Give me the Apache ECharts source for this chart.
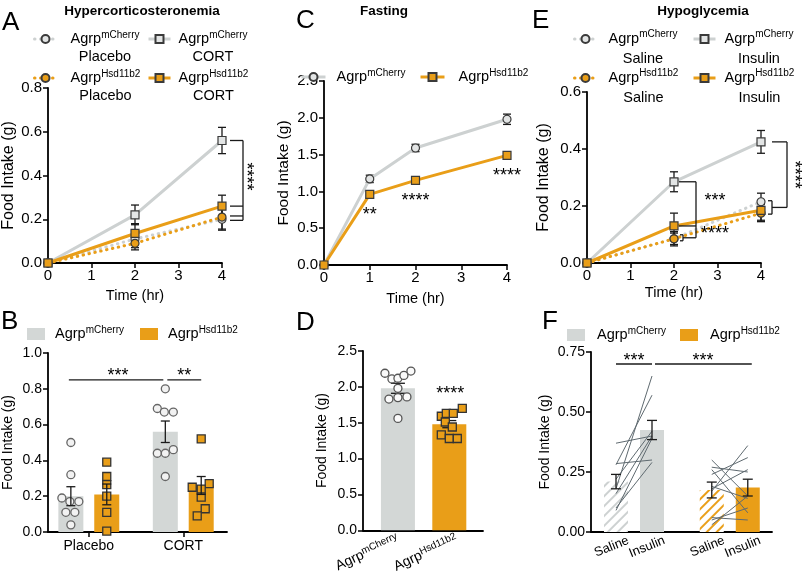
<!DOCTYPE html>
<html><head><meta charset="utf-8">
<script src="https://cdn.jsdelivr.net/npm/echarts@6/dist/echarts.min.js"></script>
<style>html,body{margin:0;padding:0;background:#fff}#c{width:802px;height:575px}</style>
</head><body><div id="c"></div>
<script>
// ================= DATA =================
// Panel A – Hypercorticosteronemia (food intake vs time)
const timeA = [0, 2, 4];
const aMchPla = [0, 0.11, 0.20];   const aMchPlaErr = [0, 0.04, 0.05];
const aMchCort = [0, 0.22, 0.56];  const aMchCortErr = [0, 0.045, 0.06];
const aHsdPla = [0, 0.09, 0.21];   const aHsdPlaErr = [0, 0.03, 0.055];
const aHsdCort = [0, 0.135, 0.26]; const aHsdCortErr = [0, 0.045, 0.05];
// Panel C – Fasting
const timeC = [0, 1, 2, 4];
const cMch = [0, 1.17, 1.59, 1.98]; const cMchErr = [0, 0.05, 0.05, 0.07];
const cHsd = [0, 0.96, 1.15, 1.49]; const cHsdErr = [0, 0.05, 0.04, 0.04];
const cStars = ['', '**', '****', '****'];
// Panel E – Hypoglycemia
const timeE = [0, 2, 4];
const eMchSal = [0, 0.085, 0.215]; const eMchSalErr = [0, 0.025, 0.03];
const eMchIns = [0, 0.285, 0.425]; const eMchInsErr = [0, 0.035, 0.04];
const eHsdSal = [0, 0.085, 0.175]; const eHsdSalErr = [0, 0.02, 0.03];
const eHsdIns = [0, 0.13, 0.185];  const eHsdInsErr = [0, 0.045, 0.035];
// Panel B – 4 h intake
const bGroups = ['Placebo', 'CORT'];
const bMchMean = [0.20, 0.56]; const bMchErr = [0.053, 0.06];
const bHsdMean = [0.21, 0.26]; const bHsdErr = [0.058, 0.05];
const bMchPla = [0.50, 0.32, 0.19, 0.17, 0.17, 0.11, 0.11, 0.04];
const bMchPlaJit = [0, 0, -9, -1, 8, -5, 4, 0];
const bHsdPla = [0.39, 0.31, 0.265, 0.20, 0.11, 0.005];
const bHsdPlaJit = [0, 0, 0, 0, 0, 0];
const bMchCort = [0.80, 0.69, 0.67, 0.67, 0.46, 0.44, 0.44, 0.31];
const bMchCortJit = [0, -8, -1, 8, 8, -8, 0, 0];
const bHsdCort = [0.52, 0.27, 0.25, 0.24, 0.195, 0.13, 0.09];
const bHsdCortJit = [0, 8, -9, 0, 0, 4, -4];
// Panel D – fasting 4 h intake
const dGroups = ['mCherry', 'Hsd11b2'];
const dMean = [1.98, 1.48]; const dErr = [0.07, 0.05];
const dMchPts = [2.19, 2.11, 2.12, 2.16, 2.22, 1.98, 1.83, 1.85, 1.86, 1.56];
const dMchJit = [-13, -6, 0, 6, 13, 0, -9, 0, 9, 0];
const dHsdPts = [1.59, 1.63, 1.63, 1.70, 1.51, 1.44, 1.33, 1.28, 1.28];
const dHsdJit = [-8, -3, 4, 13, -4, 3, -8, 0, 8];
// Panel F – hypoglycemia 4 h intake (paired)
const fConds = ['Saline', 'Insulin'];
const fMchMean = [0.21, 0.425]; const fMchErr = [0.03, 0.04];
const fHsdMean = [0.175, 0.185]; const fHsdErr = [0.033, 0.035];
const fMchSal = [0.37, 0.285, 0.28, 0.22, 0.18, 0.16, 0.09, 0.10];
const fMchIns = [0.40, 0.30, 0.57, 0.42, 0.65, 0.40, 0.39, 0.29];
const fHsdSal = [0.30, 0.27, 0.26, 0.24, 0.19, 0.18, 0.17, 0.06, 0.03, 0.05];
const fHsdIns = [0.15, 0.25, 0.08, 0.31, 0.14, 0.26, 0.36, 0.05, 0.15, 0.10];

// ================= STYLE =================
const FF = '"Liberation Sans", Arial, Helvetica, sans-serif';
const GREY_LINE = '#cdd1d1', GREY_BAR = '#d3d7d6', ORANGE = '#e99e18';
const MCH_FILL = '#e3e5e5', EDGE = '#3a3a3a';
const B_OFF = 0.19, F_OFF = 0.188, F_LBL = 0.13;

const chart = echarts.init(document.getElementById('c'), null, {renderer: 'canvas', width: 802, height: 575});

function yAx(gi, max, interval, dec, nameGap, fs, nfs) {
  return {type: 'value', gridIndex: gi, min: 0, max, interval, name: 'Food Intake (g)', nameLocation: 'middle', nameGap,
    nameTextStyle: {fontSize: nfs, color: '#000', fontFamily: FF},
    axisLine: {show: true, onZero: false, lineStyle: {color: '#000', width: 1.8}},
    axisTick: {show: true, length: 5, lineStyle: {color: '#000', width: 1.5}},
    splitLine: {show: false},
    axisLabel: {fontSize: fs, color: '#000', fontFamily: FF, margin: 6, formatter: v => v.toFixed(dec)}};
}
function timeAx(gi, nameGap) {
  return {type: 'value', gridIndex: gi, min: 0, max: 4, interval: 1, name: 'Time (hr)', nameLocation: 'middle', nameGap,
    nameTextStyle: {fontSize: 14.5, color: '#000', fontFamily: FF},
    axisLine: {show: true, onZero: false, lineStyle: {color: '#000', width: 1.8}},
    axisTick: {show: true, length: 5, lineStyle: {color: '#000', width: 1.5}},
    splitLine: {show: false},
    axisLabel: {fontSize: 15, color: '#000', fontFamily: FF, margin: 5}};
}
function catAx(gi, min, max, extra) {
  return Object.assign({type: 'value', gridIndex: gi, min, max,
    axisLine: {show: true, onZero: false, lineStyle: {color: '#000', width: 1.8}},
    splitLine: {show: false}}, extra);
}

function lineS(name, gi, xs, ys, color, dotted, symbol, fill, z) {
  return {name, type: 'line', xAxisIndex: gi, yAxisIndex: gi, data: xs.map((x, i) => [x, ys[i]]),
    symbol, symbolSize: 8, clip: false, z, emphasis: {disabled: true},
    lineStyle: {color, width: 3, type: dotted ? [0.5, 5.5] : 'solid', cap: dotted ? 'round' : 'butt'},
    itemStyle: {color: fill, borderColor: EDGE, borderWidth: 1.2}};
}
function errS(gi, xs, ys, es, cap, z) {
  return {type: 'custom', xAxisIndex: gi, yAxisIndex: gi, z, silent: true, clip: false,
    data: xs.map((x, i) => [x, ys[i], es[i]]), encode: {x: 0, y: 1},
    renderItem(params, api) {
      const x = api.value(0), m = api.value(1), e = api.value(2);
      if (!e) return null;
      const t = api.coord([x, m + e]), b = api.coord([x, m - e]);
      const st = {stroke: '#1a1a1a', lineWidth: 1.3};
      return {type: 'group', children: [
        {type: 'line', shape: {x1: t[0], y1: t[1], x2: b[0], y2: b[1]}, style: st},
        {type: 'line', shape: {x1: t[0] - cap, y1: t[1], x2: t[0] + cap, y2: t[1]}, style: st},
        {type: 'line', shape: {x1: b[0] - cap, y1: b[1], x2: b[0] + cap, y2: b[1]}, style: st}]};
    }};
}
function scatS(gi, x, vals, jit, symbol, fill, stroke, z) {
  return {type: 'scatter', xAxisIndex: gi, yAxisIndex: gi, symbol, symbolSize: 8, z, clip: false, silent: true,
    data: vals.map((v, i) => ({value: [x, v], symbolOffset: [jit[i], 0]})),
    itemStyle: {color: fill, borderColor: stroke, borderWidth: 1.3, opacity: 1}};
}
const Ln = (x1, y1, x2, y2) => ({type: 'line', shape: {x1, y1, x2, y2}, style: {stroke: '#1a1a1a', lineWidth: 1.3}});
const Tx = (text, x, y, rot) => ({type: 'text', x, y, rotation: rot || 0,
  style: {text, font: '18px ' + FF, fill: '#000', align: 'center', verticalAlign: 'middle', textAlign: 'center', textVerticalAlign: 'middle'}});
function annot(gi, build) {
  return {type: 'custom', xAxisIndex: gi, yAxisIndex: gi, data: [[0, 0]], clip: false, silent: true, z: 10,
    encode: {x: 0, y: 1},
    renderItem(params, api) { return {type: 'group', children: build((x, y) => api.coord([x, y]))}; }};
}

// ---------- legends ----------
const LEG = {
  A_mch_pla: ['mCherry', 'Placebo'], A_mch_cort: ['mCherry', 'CORT'],
  A_hsd_pla: ['Hsd11b2', 'Placebo'], A_hsd_cort: ['Hsd11b2', 'CORT'],
  E_mch_sal: ['mCherry', 'Saline'], E_mch_ins: ['mCherry', 'Insulin'],
  E_hsd_sal: ['Hsd11b2', 'Saline'], E_hsd_ins: ['Hsd11b2', 'Insulin'],
  C_mch: ['mCherry'], C_hsd: ['Hsd11b2'], B_mch: ['mCherry'], B_hsd: ['Hsd11b2'], F_mch: ['mCherry'], F_hsd: ['Hsd11b2']
};
function richFor(lh, pad) {
  return {
    e: {fontSize: 12, lineHeight: lh, fontFamily: FF},
    p: {width: pad, lineHeight: lh, fontFamily: FF, align: 'center'},
    a: {fontSize: 14.5, lineHeight: lh, fontFamily: FF, color: '#000', align: 'center'},
    s: {fontSize: 10, lineHeight: 8, verticalAlign: 'top', fontFamily: FF, color: '#000', align: 'center'},
    b: {fontSize: 14.5, lineHeight: lh, fontFamily: FF, color: '#000', align: 'center'}
  };
}
function leg(name, left, top, pad, lh, opts) {
  const t = LEG[name];
  return Object.assign({data: [name], left, top, padding: 0, selectedMode: false, itemWidth: 22, itemHeight: 10,
    lineStyle: {width: 3},
    formatter: () => t.length > 1 ? '{e| }\n{p| }{a|Agrp}{s|' + t[0] + '}\n{p| }{b|' + t[1] + '}' : '{p| }{a|Agrp}{s|' + t[0] + '}',
    textStyle: {color: '#000', fontFamily: FF, rich: richFor(lh, pad)}}, opts || {});
}
const barLeg = {itemWidth: 18, itemHeight: 12, icon: 'rect'};

// ---------- series ----------
const series = [
  // A
  errS(0, timeA, aMchPla, aMchPlaErr, 4, 1), errS(0, timeA, aMchCort, aMchCortErr, 4, 1),
  errS(0, timeA, aHsdPla, aHsdPlaErr, 4, 1), errS(0, timeA, aHsdCort, aHsdCortErr, 4, 1),
  lineS('A_mch_pla', 0, timeA, aMchPla, GREY_LINE, true, 'circle', MCH_FILL, 2),
  lineS('A_mch_cort', 0, timeA, aMchCort, GREY_LINE, false, 'rect', MCH_FILL, 2),
  lineS('A_hsd_pla', 0, timeA, aHsdPla, ORANGE, true, 'circle', ORANGE, 3),
  lineS('A_hsd_cort', 0, timeA, aHsdCort, ORANGE, false, 'rect', ORANGE, 3),
  annot(0, c => {
    const x4 = c(4, 0)[0], xv = x4 + 21;
    const yTop = c(4, aMchCort[2])[1];
    const ys = [aHsdCort[2], aMchPla[2] + 0.015, aHsdPla[2] - 0.015].map(v => c(4, v)[1]);
    const yBot = Math.max(...ys);
    return [Ln(x4 + 8, yTop, xv, yTop), Ln(xv, yTop, xv, yBot), ...ys.map(y => Ln(x4 + 8, y, xv, y)),
      Tx('****', xv + 3, (yTop + yBot) / 2 - 4, -Math.PI / 2)];
  }),
  // C
  errS(1, timeC, cMch, cMchErr, 4, 1), errS(1, timeC, cHsd, cHsdErr, 4, 1),
  lineS('C_mch', 1, timeC, cMch, GREY_LINE, false, 'circle', MCH_FILL, 2),
  lineS('C_hsd', 1, timeC, cHsd, ORANGE, false, 'rect', ORANGE, 3),
  annot(1, c => timeC.map((t, i) => cStars[i] ? Tx(cStars[i], c(t, cHsd[i])[0], c(t, cHsd[i])[1] + 21) : null).filter(Boolean)),
  // E
  errS(2, timeE, eMchSal, eMchSalErr, 4, 1), errS(2, timeE, eMchIns, eMchInsErr, 4, 1),
  errS(2, timeE, eHsdSal, eHsdSalErr, 4, 1), errS(2, timeE, eHsdIns, eHsdInsErr, 4, 1),
  lineS('E_mch_sal', 2, timeE, eMchSal, GREY_LINE, true, 'circle', MCH_FILL, 2),
  lineS('E_mch_ins', 2, timeE, eMchIns, GREY_LINE, false, 'rect', MCH_FILL, 2),
  lineS('E_hsd_sal', 2, timeE, eHsdSal, ORANGE, true, 'circle', ORANGE, 3),
  lineS('E_hsd_ins', 2, timeE, eHsdIns, ORANGE, false, 'rect', ORANGE, 3),
  annot(2, c => {
    const out = [];
    const x2 = c(2, 0)[0];
    const ySal = c(2, eMchSal[1])[1] - 1;
    out.push(Ln(x2 + 6, ySal - 3, x2 + 9, ySal - 3), Ln(x2 + 9, ySal - 3, x2 + 9, ySal + 3), Ln(x2 + 6, ySal + 3, x2 + 9, ySal + 3));
    const yIns = c(2, eMchIns[1])[1], yHIns = c(2, eHsdIns[1])[1], xv = x2 + 22;
    out.push(Ln(x2 + 5, yIns, xv, yIns), Ln(xv, yIns, xv, ySal), Ln(x2 + 5, yHIns, xv, yHIns), Ln(x2 + 9, ySal, xv, ySal));
    out.push(Tx('***', x2 + 41, (yIns + yHIns) / 2 - 3), Tx('****', x2 + 41, (yHIns + ySal) / 2 + 2));
    const x4 = c(4, 0)[0];
    const vals = [eMchSal[2], eHsdSal[2], eHsdIns[2]];
    const sTop = c(4, Math.max(...vals))[1] - 1, sBot = c(4, Math.min(...vals))[1] + 1;
    out.push(Ln(x4 + 7, sTop, x4 + 11, sTop), Ln(x4 + 11, sTop, x4 + 11, sBot), Ln(x4 + 7, sBot, x4 + 11, sBot));
    const yI4 = c(4, eMchIns[2])[1], ym = (sTop + sBot) / 2, xv4 = x4 + 26;
    out.push(Ln(x4 + 11, yI4, xv4, yI4), Ln(xv4, yI4, xv4, ym), Ln(x4 + 11, ym, xv4, ym));
    out.push(Tx('****', xv4 + 7, (yI4 + ym) / 2, -Math.PI / 2));
    return out;
  }),
  // B
  {name: 'B_mch', type: 'bar', xAxisIndex: 3, yAxisIndex: 3, data: bMchMean.map((v, i) => [i - B_OFF, v]),
    barWidth: 25, barGap: '-100%', itemStyle: {color: GREY_BAR}, z: 2, silent: true},
  {name: 'B_hsd', type: 'bar', xAxisIndex: 3, yAxisIndex: 3, data: bHsdMean.map((v, i) => [i + B_OFF, v]),
    barWidth: 25, barGap: '-100%', itemStyle: {color: ORANGE}, z: 2, silent: true},
  scatS(3, 0 - B_OFF, bMchPla, bMchPlaJit, 'circle', '#f2f2f2', '#666', 3),
  scatS(3, 0 + B_OFF, bHsdPla, bHsdPlaJit, 'rect', ORANGE, '#333', 3),
  scatS(3, 1 - B_OFF, bMchCort, bMchCortJit, 'circle', '#f2f2f2', '#666', 3),
  scatS(3, 1 + B_OFF, bHsdCort, bHsdCortJit, 'rect', ORANGE, '#333', 3),
  errS(3, [0 - B_OFF, 1 - B_OFF], bMchMean, bMchErr, 4.5, 4),
  errS(3, [0 + B_OFF, 1 + B_OFF], bHsdMean, bHsdErr, 4.5, 4),
  annot(3, c => {
    const y = c(0, 0.85)[1];
    const xa = c(-B_OFF, 0)[0], xc = c(1 - B_OFF, 0)[0], xd = c(1 + B_OFF, 0)[0];
    return [Ln(xa - 2, y, xc - 2, y), Ln(xc + 2, y, xd, y), Tx('***', (xa + xc) / 2, y - 4), Tx('**', (xc + xd) / 2 + 1, y - 4)];
  }),
  // D
  {type: 'bar', xAxisIndex: 4, yAxisIndex: 4, barWidth: 34, z: 2, silent: true,
    data: [{value: [0, dMean[0]], itemStyle: {color: GREY_BAR}}, {value: [1, dMean[1]], itemStyle: {color: ORANGE}}]},
  errS(4, [0, 1], dMean, dErr, 7, 3),
  scatS(4, 0, dMchPts, dMchJit, 'circle', '#fafafa', '#555', 4),
  scatS(4, 1, dHsdPts, dHsdJit, 'rect', ORANGE, '#333', 4),
  annot(4, c => [Tx('****', c(1, 0)[0] + 1, c(1, Math.max(...dHsdPts))[1] - 14)]),
  // F
  {name: 'F_mch_sal', type: 'bar', xAxisIndex: 5, yAxisIndex: 5, data: [[0 - F_OFF, fMchMean[0]]], barWidth: 24, barGap: '-100%', z: 2, silent: true,
    itemStyle: {color: '#ffffff', decal: {symbol: 'rect', symbolSize: 1, dashArrayX: [1, 0], dashArrayY: [2, 5], rotation: -Math.PI / 4, color: '#cdd1d1'}}},
  {name: 'F_mch', type: 'bar', xAxisIndex: 5, yAxisIndex: 5, data: [[0 + F_OFF, fMchMean[1]]], barWidth: 24, barGap: '-100%', z: 2, silent: true,
    itemStyle: {color: GREY_BAR}},
  {name: 'F_hsd_sal', type: 'bar', xAxisIndex: 5, yAxisIndex: 5, data: [[1 - F_OFF, fHsdMean[0]]], barWidth: 24, barGap: '-100%', z: 2, silent: true,
    itemStyle: {color: '#ffffff', decal: {symbol: 'rect', symbolSize: 1, dashArrayX: [1, 0], dashArrayY: [2, 5], rotation: -Math.PI / 4, color: ORANGE}}},
  {name: 'F_hsd', type: 'bar', xAxisIndex: 5, yAxisIndex: 5, data: [[1 + F_OFF, fHsdMean[1]]], barWidth: 24, barGap: '-100%', z: 2, silent: true,
    itemStyle: {color: ORANGE}},
  {type: 'custom', xAxisIndex: 5, yAxisIndex: 5, z: 3, silent: true, clip: false, encode: {x: 0, y: 1},
    data: fMchSal.map((s, i) => [0, s, fMchIns[i]]).concat(fHsdSal.map((s, i) => [1, s, fHsdIns[i]])),
    renderItem(params, api) {
      const g = api.value(0);
      const a = api.coord([g - F_OFF, api.value(1)]), b = api.coord([g + F_OFF, api.value(2)]);
      return {type: 'line', shape: {x1: a[0], y1: a[1], x2: b[0], y2: b[1]}, style: {stroke: '#5f6a70', lineWidth: 1}};
    }},
  errS(5, [0 - F_OFF, 0 + F_OFF], fMchMean, fMchErr, 5, 4),
  errS(5, [1 - F_OFF, 1 + F_OFF], fHsdMean, fHsdErr, 5, 4),
  annot(5, c => {
    const y = c(0, 0.70)[1];
    const x1 = c(-F_OFF, 0)[0], x2 = c(F_OFF, 0)[0], x4 = c(1 + F_OFF, 0)[0];
    return [Ln(x1, y, x2, y), Ln(x2 + 3, y, x4 + 4, y), Tx('***', (x1 + x2) / 2, y - 3), Tx('***', (x2 + x4) / 2 + 3, y - 3)];
  })
];

const fLabelPos = [0 - F_OFF, 0 + F_OFF, 1 - F_OFF, 1 + F_OFF].map(v => v + F_LBL);
const nearestIdx = (arr, v) => arr.reduce((bi, p, i) => Math.abs(p - v) < Math.abs(arr[bi] - v) ? i : bi, 0);

const gtext = (text, x, y, size, weight, align) => ({type: 'text', x, y, silent: true,
  style: {text, font: (weight || 'normal') + ' ' + size + 'px ' + FF, fill: '#000', align: align || 'left', verticalAlign: 'middle',
    textAlign: align || 'left', textVerticalAlign: 'middle'}});

chart.setOption({
  animation: false,
  backgroundColor: '#fff',
  grid: [
    {left: 47, top: 88, width: 175, height: 175},
    {left: 324, top: 81, width: 183, height: 184},
    {left: 587, top: 92, width: 174, height: 171},
    {left: 47, top: 353, width: 180, height: 179},
    {left: 363, top: 351, width: 120, height: 182},
    {left: 591, top: 352, width: 181, height: 180}
  ],
  xAxis: [
    timeAx(0, 25), timeAx(1, 26), timeAx(2, 22),
    catAx(3, -0.432, 1.463, {
      axisTick: {show: true, customValues: [0, 1], length: 5, lineStyle: {color: '#000', width: 1.5}},
      axisLabel: {customValues: [0, 1], formatter: v => bGroups[Math.round(v)], fontSize: 14, color: '#000', fontFamily: FF, margin: 7}}),
    catAx(4, -0.68, 1.656, {
      axisTick: {show: false},
      axisLabel: {customValues: [0, 1.15], rotate: 25, margin: 8, formatter: v => '{a|Agrp}{s|' + dGroups[Math.round(v)] + '}',
        rich: {a: {fontSize: 14, fontFamily: FF, color: '#000', lineHeight: 16}, s: {fontSize: 10, fontFamily: FF, color: '#000', lineHeight: 8, verticalAlign: 'top'}}}}),
    catAx(5, -0.449, 1.441, {
      axisTick: {show: false},
      axisLabel: {customValues: fLabelPos, rotate: 22, margin: 8, fontSize: 13, color: '#000', fontFamily: FF,
        formatter: v => fConds[nearestIdx(fLabelPos, v) % 2]}})
  ],
  yAxis: [yAx(0, 0.8, 0.2, 1, 31, 15, 16), yAx(1, 2.5, 0.5, 1, 32, 15, 15.5), yAx(2, 0.6, 0.2, 1, 35, 15, 16),
          yAx(3, 1.0, 0.2, 1, 33, 14, 14), yAx(4, 2.5, 0.5, 1, 34, 14, 14), yAx(5, 0.75, 0.25, 2, 39, 14, 14)],
  legend: [
    leg('A_mch_pla', 33, 15, 9, 18), leg('A_mch_cort', 147, 15, 3, 18),
    leg('A_hsd_pla', 33, 54, 9, 18), leg('A_hsd_cort', 147, 54, 3, 18),
    leg('C_mch', 300, 68, 6, 18, {itemWidth: 24}), leg('C_hsd', 419, 68, 9, 18, {itemWidth: 24}),
    leg('E_mch_sal', 573, 13, 7, 20), leg('E_mch_ins', 692, 13, 4, 20),
    leg('E_hsd_sal', 573, 52, 7, 20), leg('E_hsd_ins', 692, 52, 4, 20),
    leg('B_mch', 27, 325, 5, 18, barLeg), leg('B_hsd', 140, 325, 5, 18, barLeg),
    leg('F_mch', 567, 326, 7, 18, barLeg), leg('F_hsd', 680, 326, 7, 18, barLeg)
  ],
  graphic: [
    gtext('A', 2, 23, 26), gtext('C', 296, 21, 26), gtext('E', 532, 21, 26),
    gtext('B', 1, 322, 26), gtext('D', 296, 323, 26), gtext('F', 542, 322, 26),
    gtext('Hypercorticosteronemia', 142, 11, 13.5, 'bold', 'center'),
    gtext('Fasting', 384, 11, 13.5, 'bold', 'center'),
    gtext('Hypoglycemia', 703, 11, 13.5, 'bold', 'center')
  ],
  series
});
</script></body></html>
